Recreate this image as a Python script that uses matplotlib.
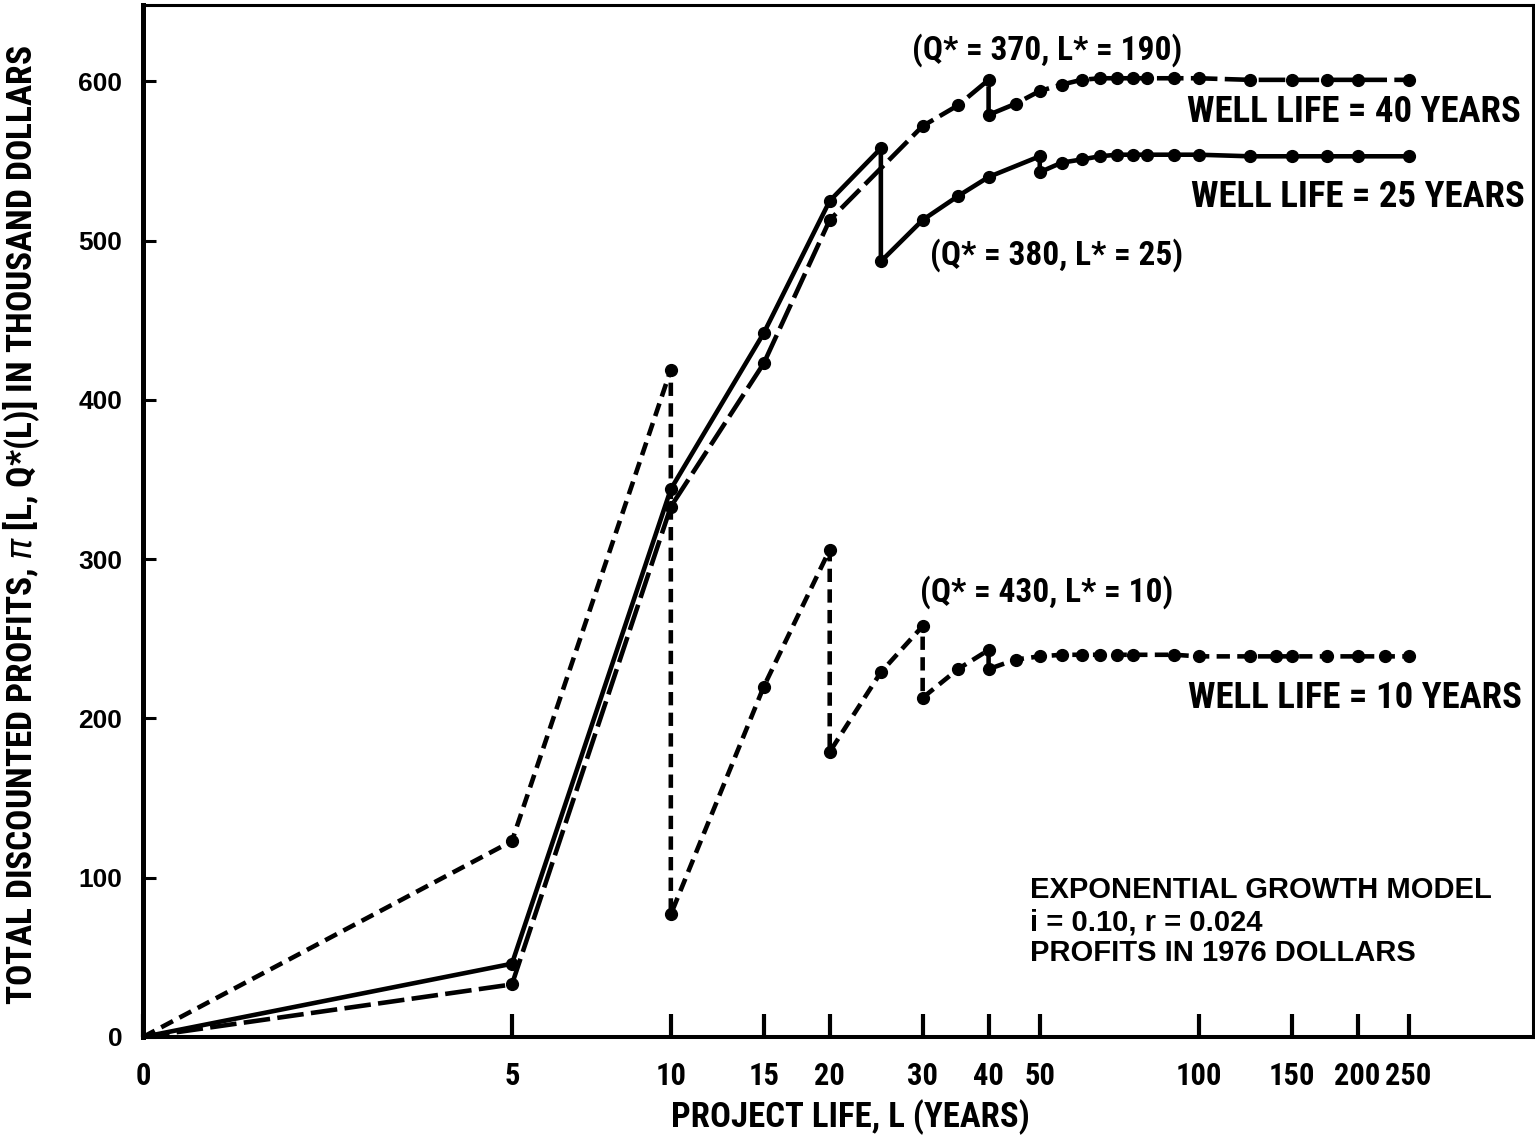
import numpy as np
import matplotlib
matplotlib.use("Agg")
import matplotlib.pyplot as plt
import matplotlib.font_manager as fm

# project life L (years) and total discounted profits (thousand dollars)
L_10 = [0, 5, 10, 10, 15, 20, 20, 25, 30, 30, 35, 40, 40, 45, 50, 55, 60, 65, 70, 75,
        90, 100, 125, 140, 150, 175, 200, 225, 250]
P_10 = [0, 123, 419, 77, 220, 306, 179, 229, 258, 213, 231, 243, 231, 237, 239, 240, 240, 240, 240, 240,
        240, 239, 239, 239, 239, 239, 239, 239, 239]

L_25 = [0, 5, 10, 15, 20, 25, 25, 30, 35, 40, 50, 50, 55, 60, 65, 70, 75, 80, 90, 100,
        125, 150, 175, 200, 250]
P_25 = [0, 46, 344, 442, 525, 558, 487, 513, 528, 540, 553, 543, 549, 551, 553, 554, 554, 554, 554, 554,
        553, 553, 553, 553, 553]

L_40 = [0, 5, 10, 15, 20, 30, 35, 40, 40, 45, 50, 55, 60, 65, 70, 75, 80, 90, 100,
        125, 150, 175, 200, 250]
P_40 = [0, 33, 333, 423, 513, 572, 585, 601, 579, 586, 594, 598, 601, 602, 602, 602, 602, 602, 602,
        601, 601, 601, 601, 601]

x_ticks = [0, 5, 10, 15, 20, 30, 40, 50, 100, 150, 200, 250]
y_ticks = [0, 100, 200, 300, 400, 500, 600]

names = {f.name for f in fm.fontManager.ttflist}
narrow = next((n for n in ["Liberation Sans Narrow", "Roboto Condensed", "Open Sans Condensed"]
               if n in names), "DejaVu Sans")
wide = "Liberation Sans" if "Liberation Sans" in names else "DejaVu Sans"

fig = plt.figure(figsize=(15.35, 11.4), dpi=100)
ax = fig.add_axes([143 / 1535, 1 - 1037 / 1140, 1390 / 1535, 1032 / 1140])

# log axis, with L = 0 drawn where L = 1 would be
ax.set_xscale("function", functions=(lambda x: np.log10(np.clip(x, 1, None)),
                                     lambda y: 10 ** y))

lw = 3.3
ms = 8.5
ax.plot(L_40, P_40, color="black", lw=lw, dashes=(5.8, 1.6), marker="o", ms=ms,
        markevery=range(1, len(L_40)))
ax.plot(L_25, P_25, color="black", lw=lw, marker="o", ms=ms,
        markevery=range(1, len(L_25)))
ax.plot(L_10, P_10, color="black", lw=lw, dashes=(2.9, 1.6), marker="o", ms=ms,
        markevery=range(1, len(L_10)))

ax.set_xlim(0, 430)
ax.set_ylim(0, 648)
ax.set_xticks(x_ticks)
ax.set_xticklabels([str(t) for t in x_ticks])
ax.xaxis.set_minor_locator(matplotlib.ticker.NullLocator())
ax.set_yticks(y_ticks)

ax.tick_params(axis="x", direction="in", length=16.5, width=3, pad=17)
ax.tick_params(axis="y", direction="in", length=9.5, width=2.2, pad=15)
for lab in ax.get_xticklabels():
    lab.set_fontfamily(narrow)
    lab.set_fontstretch("condensed")
    lab.set_fontweight("bold")
    lab.set_fontsize(22)
for lab in ax.get_yticklabels():
    lab.set_fontfamily(wide)
    lab.set_fontweight("bold")
    lab.set_fontsize(19)

ax.spines["left"].set_linewidth(3.6)
ax.spines["bottom"].set_linewidth(2.9)
ax.spines["top"].set_linewidth(2.2)
ax.spines["right"].set_linewidth(2.2)

lab_kw = dict(family=narrow, fontstretch="condensed", fontweight="bold")
ax.set_xlabel("PROJECT LIFE, L (YEARS)", fontsize=25, **lab_kw)
ax.xaxis.set_label_coords(0.509, -0.060)
ax.set_ylabel("TOTAL DISCOUNTED PROFITS, $\\pi$ [L, Q*(L)] IN THOUSAND DOLLARS", fontsize=25.5, **lab_kw)
ax.yaxis.set_label_coords(-0.0727, 0.496)

q_kw = dict(transform=ax.transAxes, fontsize=24, ha="left", va="center", **lab_kw)
ax.text(0.553, 0.956, "(Q* = 370, L* = 190)", **q_kw)
ax.text(0.566, 0.758, "(Q* = 380, L* = 25)", **q_kw)
ax.text(0.559, 0.431, "(Q* = 430, L* = 10)", **q_kw)

w_kw = dict(transform=ax.transAxes, fontsize=26.5, ha="right", va="center", **lab_kw)
ax.text(0.991, 0.896, "WELL LIFE = 40 YEARS", **w_kw)
ax.text(0.994, 0.814, "WELL LIFE = 25 YEARS", **w_kw)
ax.text(0.992, 0.3285, "WELL LIFE = 10 YEARS", **w_kw)

blk_kw = dict(transform=ax.transAxes, fontsize=21, family=wide, fontweight="bold",
              ha="left", va="center")
ax.text(0.638, 0.1424, "EXPONENTIAL GROWTH MODEL", **blk_kw)
ax.text(0.638, 0.1114, "i = 0.10, r = 0.024", **blk_kw)
ax.text(0.638, 0.0814, "PROFITS IN 1976 DOLLARS", **blk_kw)

fig.savefig("out.png", dpi=100)
